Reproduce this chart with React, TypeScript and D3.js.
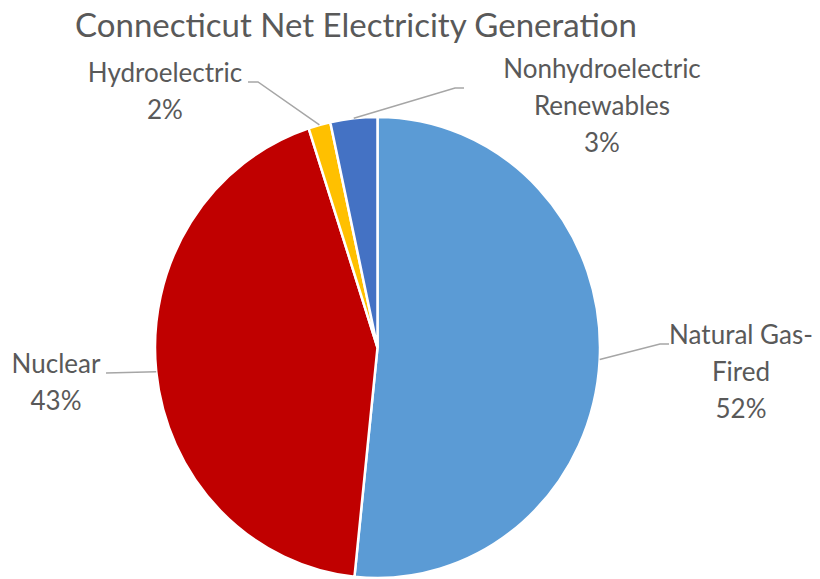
import { useEffect, useRef } from 'react';
import * as d3 from 'd3';

// Share of net generation (percent)
const categories = ['Natural Gas-Fired', 'Nuclear', 'Hydroelectric', 'Nonhydroelectric Renewables'];
const values = [51.6, 43.3, 1.6, 3.4];
const labelLines = [
  ['Natural Gas-', 'Fired'],
  ['Nuclear'],
  ['Hydroelectric'],
  ['Nonhydroelectric', 'Renewables'],
];
const colors = ['#5B9BD5', '#C00000', '#FFC000', '#4472C4'];

const WIDTH = 820;
const HEIGHT = 579;
const CX = 377.5;
const CY = 347.5;
const RADIUS = 222.5;
const Y_STRETCH = 1.036;
const TEXT_COLOR = '#595959';
const LEADER_COLOR = '#A6A6A6';
const FONT = 'Lato, "Open Sans", sans-serif';

// where each label sits: leader elbow, leader end, label centre and first baseline
const LABEL_LAYOUT = [
  { elbow: [660, 344], end: [669, 344], x: 741, y: 344 },
  { elbow: [106, 373], end: [106, 373], x: 56, y: 373 },
  { elbow: [258, 82], end: [248, 82], x: 165, y: 82 },
  { elbow: [455, 88], end: [464, 88], x: 602, y: 78 },
];
const LINE_HEIGHT = 37;

export default function App() {
  const svgRef = useRef<SVGSVGElement>(null);

  useEffect(() => {
    document.body.style.margin = '0';
    if (!svgRef.current) return;

    const svg = d3.select(svgRef.current);
    svg.selectAll('*').remove();

    svg.append('rect')
      .attr('width', WIDTH)
      .attr('height', HEIGHT)
      .attr('fill', '#fff');

    // Title
    svg.append('text')
      .attr('x', 356)
      .attr('y', 37)
      .attr('text-anchor', 'middle')
      .style('font-family', FONT)
      .style('font-size', '33px')
      .style('fill', TEXT_COLOR)
      .text('Connecticut Net Electricity Generation');

    const pie = d3.pie<number>().sort(null).value((d) => d);
    const arcs = pie(values);
    const arc = d3.arc<d3.PieArcDatum<number>>().innerRadius(0).outerRadius(RADIUS);

    const g = svg.append('g')
      .attr('transform', `translate(${CX},${CY}) scale(1,${Y_STRETCH})`);

    g.selectAll('.slice')
      .data(arcs)
      .enter()
      .append('path')
      .attr('class', 'slice')
      .attr('d', arc)
      .attr('fill', (_, i) => colors[i])
      .attr('stroke', '#fff')
      .attr('stroke-width', 2.5);

    // Leader lines, from the outer edge at each slice's mid angle
    arcs.forEach((a, i) => {
      const mid = (a.startAngle + a.endAngle) / 2;
      const sx = CX + RADIUS * Math.sin(mid);
      const sy = CY - RADIUS * Math.cos(mid) * Y_STRETCH;
      const lay = LABEL_LAYOUT[i];
      svg.append('polyline')
        .attr('points', `${sx},${sy} ${lay.elbow[0]},${lay.elbow[1]} ${lay.end[0]},${lay.end[1]}`)
        .attr('fill', 'none')
        .attr('stroke', LEADER_COLOR)
        .attr('stroke-width', 1.5);

      const lines = [...labelLines[i], `${Math.round(values[i])}%`];
      const t = svg.append('text')
        .attr('text-anchor', 'middle')
        .style('font-family', FONT)
        .style('font-size', '26px')
        .style('fill', TEXT_COLOR)
        .attr('aria-label', categories[i]);
      lines.forEach((line, j) => {
        t.append('tspan')
          .attr('x', lay.x)
          .attr('y', lay.y + j * LINE_HEIGHT)
          .text(line);
      });
    });
  }, []);

  return <svg ref={svgRef} width={WIDTH} height={HEIGHT} style={{ display: 'block' }} />;
}
